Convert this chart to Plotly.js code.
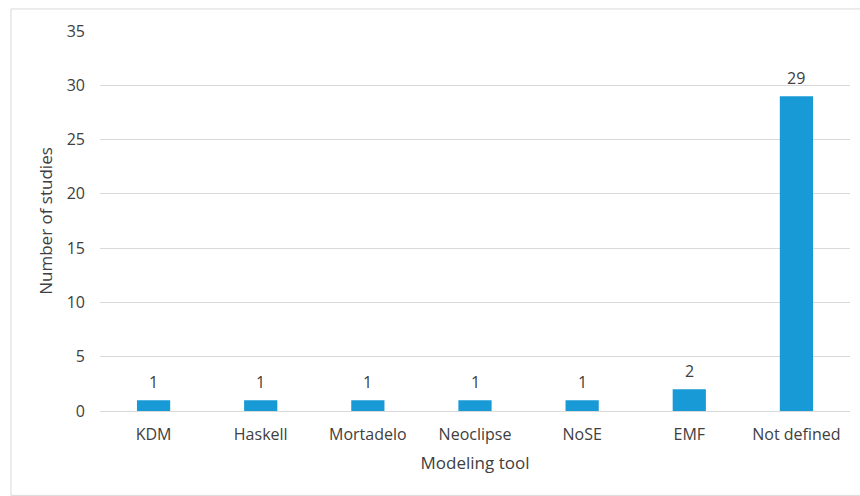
<!DOCTYPE html>
<html><head><meta charset="utf-8">
<script src="https://cdn.plot.ly/plotly-3.0.1.min.js"></script>
<style>html,body{margin:0;padding:0;background:#fff}#c{width:860px;height:496px}</style>
</head><body><div id="c"></div>
<script>
const categories = ["KDM","Haskell","Mortadelo","Neoclipse","NoSE","EMF","Not defined"];
const studies = [1,1,1,1,1,2,29];
const yTicks = [0,5,10,15,20,25,30,35];

const fam = "Open Sans, Liberation Sans, sans-serif";
const txt = "#404040";
Plotly.newPlot("c", [{
  type:"bar", x:categories, y:studies,
  marker:{color:"#189ad6"},
  hoverinfo:"none"
}], {
  width:860, height:496,
  margin:{l:100,r:10,t:31,b:85},
  paper_bgcolor:"#fff", plot_bgcolor:"#fff",
  font:{family:fam, size:16, color:txt},
  bargap:0.69,
  showlegend:false,
  xaxis:{title:{text:"Modeling tool", font:{size:17,color:txt}, standoff:12},
         showline:true, linecolor:"#d9d9d9", linewidth:1, ticks:"", ticklabelstandoff:9,
         tickfont:{size:16,color:txt}},
  yaxis:{title:{text:"Number of studies", font:{size:17,color:txt}, standoff:9},
         range:[0,35], tickvals:yTicks, showgrid:true, gridcolor:"#d9d9d9", gridwidth:1,
         zeroline:false, showline:false, ticks:"", ticklabelstandoff:14,
         tickfont:{size:16,color:txt}},
  annotations: categories.map((c,i)=>({x:c, y:studies[i], xref:"x", yref:"y",
     text:String(studies[i]), showarrow:false, yanchor:"bottom", yshift:5,
     font:{family:fam,size:16,color:txt}})),
  shapes:[{type:"rect", xref:"paper", yref:"paper", x0:-0.1187, x1:1.02, y0:-0.222, y1:1.058,
           line:{color:"#d9d9d9", width:1}}]
}, {staticPlot:true});
</script></body></html>
